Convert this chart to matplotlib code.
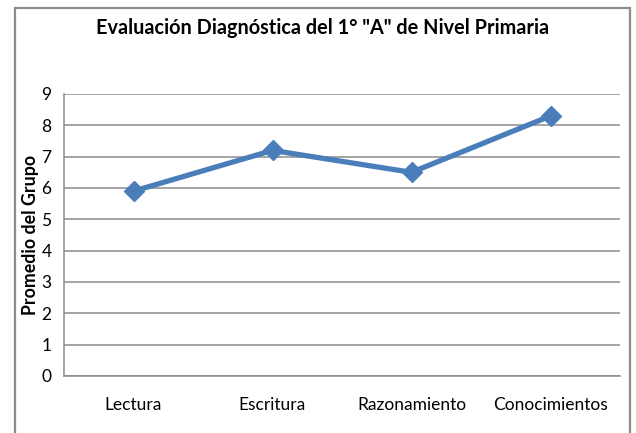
import matplotlib as mpl
mpl.use("Agg")
import matplotlib.pyplot as plt
from matplotlib.patches import Rectangle

# datos del grafico
categorias = ['Lectura', 'Escritura', 'Razonamiento', 'Conocimientos']
promedios = [5.9, 7.2, 6.5, 8.3]
yticks = list(range(0, 10))

plt.rcParams['font.family'] = ['Lato', 'DejaVu Sans']

fig = plt.figure(figsize=(6.36, 4.33), dpi=100)
W, H = 636.0, 433.0
ax = fig.add_axes([64 / W, (H - 376) / H, 556 / W, 282 / H])

x = range(len(categorias))
ax.plot(x, promedios, color='#4A7EBB', lw=3.8, marker='D', ms=10.5,
        markerfacecolor='#4A7EBB', markeredgecolor='#4A7EBB', zorder=3)

ax.set_xlim(-0.5, len(categorias) - 0.5)
ax.set_ylim(0, 9)
ax.set_yticks(yticks)
ax.set_xticks(list(x))
ax.set_xticklabels(categorias)
ax.tick_params(axis='both', length=0, labelsize=12.5, colors='black')
ax.tick_params(axis='y', pad=9)
ax.tick_params(axis='x', pad=15)

ax.grid(axis='y', color='#8C8C8C', lw=1.1)
ax.set_axisbelow(True)
for s in ['top', 'right']:
    ax.spines[s].set_visible(False)
for s in ['left', 'bottom']:
    ax.spines[s].set_color('#8C8C8C')
    ax.spines[s].set_linewidth(1.1)

ax.set_ylabel('Promedio del Grupo', fontsize=12.8, fontweight='bold', labelpad=2)

fig.text(323 / W, 1 - 28 / H, 'Evaluación Diagnóstica del 1° "A" de Nivel Primaria',
         ha='center', va='center', fontsize=14.3, fontweight='bold')

# marco exterior
fig.patches.append(Rectangle((15 / W, -0.05), 615 / W, 1.05 - 8 / H,
                             transform=fig.transFigure, fill=False,
                             edgecolor='#8C8C8C', lw=1.6))

plt.savefig('out.png', dpi=100)
